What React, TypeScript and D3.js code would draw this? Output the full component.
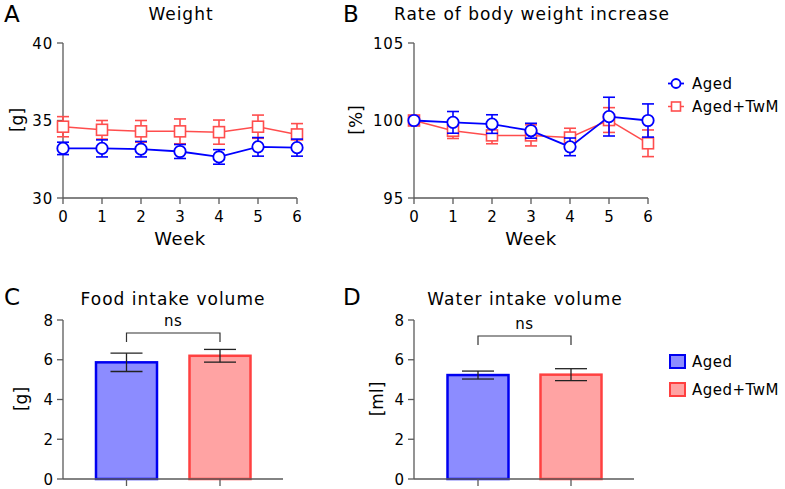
import React from "react";
import * as d3 from "d3";

const weeks = [0, 1, 2, 3, 4, 5, 6];
const weightAged = [33.2, 33.2, 33.15, 33.0, 32.65, 33.3, 33.25];
const weightAgedErr = [0.4, 0.55, 0.5, 0.45, 0.47, 0.6, 0.55];
const weightTwm = [34.6, 34.4, 34.3, 34.3, 34.25, 34.6, 34.1];
const weightTwmErr = [0.65, 0.6, 0.7, 0.8, 0.78, 0.75, 0.7];

const rateAged = [100, 99.88, 99.77, 99.34, 98.3, 100.25, 100.0];
const rateAgedErr = [0, 0.7, 0.6, 0.48, 0.57, 1.25, 1.07];
const rateTwm = [100, 99.34, 99.04, 99.04, 98.9, 100.03, 98.53];
const rateTwmErr = [0, 0.5, 0.54, 0.68, 0.6, 0.8, 0.86];

const groups = ["Aged", "Aged+TwM"];
const foodMean = [5.87, 6.2];
const foodErr = [0.46, 0.32];
const waterMean = [5.23, 5.25];
const waterErr = [0.2, 0.3];

const weightTicks = [30, 35, 40];
const rateTicks = [95, 100, 105];
const barTicks = [0, 2, 4, 6, 8];

const BLUE = "#0000ff";
const RED = "#ff4d4d";
const BLUE_FILL = "#8c8cff";
const RED_FILL = "#ffa3a3";
const AXIS = "#5a5a5a";
const FONT = "DejaVu Sans, Verdana, sans-serif";

type LineProps = {
  x0: number;
  x1: number;
  yTop: number;
  yBot: number;
  domain: [number, number];
  ticks: number[];
  a: number[];
  aErr: number[];
  b: number[];
  bErr: number[];
};

function LinePanel(p: LineProps) {
  const x = d3.scaleLinear().domain([0, 6]).range([p.x0, p.x1]);
  const y = d3.scaleLinear().domain(p.domain).range([p.yBot, p.yTop]);
  const line = d3
    .line<number>()
    .x((_, i) => x(weeks[i]))
    .y((d) => y(d));
  const cap = 6;
  const errBars = (vals: number[], errs: number[], color: string) =>
    vals.map((v, i) =>
      errs[i] > 0 ? (
        <g key={i} stroke={color} strokeWidth={1.6}>
          <line x1={x(weeks[i])} x2={x(weeks[i])} y1={y(v + errs[i])} y2={y(v - errs[i])} />
          <line x1={x(weeks[i]) - cap} x2={x(weeks[i]) + cap} y1={y(v + errs[i])} y2={y(v + errs[i])} />
          <line x1={x(weeks[i]) - cap} x2={x(weeks[i]) + cap} y1={y(v - errs[i])} y2={y(v - errs[i])} />
        </g>
      ) : null
    );
  return (
    <g>
      <line x1={p.x0} x2={p.x0} y1={p.yTop} y2={p.yBot} stroke={AXIS} strokeWidth={1.3} />
      <line x1={p.x0} x2={p.x1} y1={p.yBot} y2={p.yBot} stroke={AXIS} strokeWidth={1.3} />
      {p.ticks.map((t) => (
        <g key={t}>
          <line x1={p.x0 - 6} x2={p.x0} y1={y(t)} y2={y(t)} stroke={AXIS} strokeWidth={1.3} />
          <text x={p.x0 - 10} y={y(t) + 5.5} textAnchor="end" fontSize={15} letterSpacing={0.8} fontFamily={FONT}>
            {t}
          </text>
        </g>
      ))}
      {weeks.map((w) => (
        <g key={w}>
          <line x1={x(w)} x2={x(w)} y1={p.yBot} y2={p.yBot + 6} stroke={AXIS} strokeWidth={1.3} />
          <text x={x(w)} y={p.yBot + 24} textAnchor="middle" fontSize={15} fontFamily={FONT}>
            {w}
          </text>
        </g>
      ))}
      <text x={(p.x0 + p.x1) / 2} y={p.yBot + 47} textAnchor="middle" fontSize={18} letterSpacing={0.6} fontFamily={FONT}>
        Week
      </text>
      {errBars(p.b, p.bErr, RED)}
      <path d={line(p.b) || ""} fill="none" stroke={RED} strokeWidth={1.5} />
      {p.b.map((v, i) => (
        <rect key={i} x={x(weeks[i]) - 5.5} y={y(v) - 5.5} width={11} height={11} fill="#fff" stroke={RED} strokeWidth={1.6} />
      ))}
      {errBars(p.a, p.aErr, BLUE)}
      <path d={line(p.a) || ""} fill="none" stroke={BLUE} strokeWidth={1.8} />
      {p.a.map((v, i) => (
        <circle key={i} cx={x(weeks[i])} cy={y(v)} r={5.7} fill="#fff" stroke={BLUE} strokeWidth={1.8} />
      ))}
    </g>
  );
}

type BarProps = {
  x0: number;
  x1: number;
  centers: number[];
  means: number[];
  errs: number[];
  bracketTop: number;
};

function BarPanel(p: BarProps) {
  const y = d3.scaleLinear().domain([0, 8]).range([479, 320]);
  const bw = 61;
  const fills = [BLUE_FILL, RED_FILL];
  const strokes = ["#0000f0", "#ff4040"];
  const cap = 16;
  const mid = (p.centers[0] + p.centers[1]) / 2;
  return (
    <g>
      {p.means.map((m, i) => (
        <rect
          key={i}
          x={p.centers[i] - bw / 2}
          y={y(m)}
          width={bw}
          height={y(0) - y(m)}
          fill={fills[i]}
          stroke={strokes[i]}
          strokeWidth={2.5}
        />
      ))}
      {p.means.map((m, i) => (
        <g key={i} stroke="#222" strokeWidth={1.3}>
          <line x1={p.centers[i]} x2={p.centers[i]} y1={y(m + p.errs[i])} y2={y(m - p.errs[i])} />
          <line x1={p.centers[i] - cap} x2={p.centers[i] + cap} y1={y(m + p.errs[i])} y2={y(m + p.errs[i])} />
          <line x1={p.centers[i] - cap} x2={p.centers[i] + cap} y1={y(m - p.errs[i])} y2={y(m - p.errs[i])} />
        </g>
      ))}
      <line x1={p.x0} x2={p.x0} y1={320} y2={479} stroke={AXIS} strokeWidth={1.3} />
      <line x1={p.x0} x2={p.x1} y1={479} y2={479} stroke={AXIS} strokeWidth={1.3} />
      {barTicks.map((t) => (
        <g key={t}>
          <line x1={p.x0 - 6} x2={p.x0} y1={y(t)} y2={y(t)} stroke={AXIS} strokeWidth={1.3} />
          <text x={p.x0 - 10} y={y(t) + 5.5} textAnchor="end" fontSize={15} fontFamily={FONT}>
            {t}
          </text>
        </g>
      ))}
      {p.centers.map((c, i) => (
        <line key={i} x1={c} x2={c} y1={479} y2={486} stroke={AXIS} strokeWidth={1.3} />
      ))}
      <path
        d={`M${p.centers[0]},${p.bracketTop + 9}V${p.bracketTop}H${p.centers[1]}V${p.bracketTop + 9}`}
        fill="none"
        stroke="#333"
        strokeWidth={1.2}
      />
      <text x={mid} y={p.bracketTop - 7} textAnchor="middle" fontSize={15} letterSpacing={0.6} fontFamily={FONT}>
        ns
      </text>
    </g>
  );
}

export default function App() {
  return (
    <svg
      width={785}
      height={489}
      style={{ position: "absolute", left: 0, top: 0, background: "#fff" }}
      fontFamily={FONT}
    >
      <rect width={785} height={489} fill="#fff" />
      <text x={4} y={22} fontSize={23}>A</text>
      <text x={343} y={22} fontSize={23}>B</text>
      <text x={4} y={305} fontSize={23}>C</text>
      <text x={343} y={305} fontSize={23}>D</text>
      <text x={181} y={20} textAnchor="middle" fontSize={17} letterSpacing={1}>Weight</text>
      <text x={532} y={20} textAnchor="middle" fontSize={17} letterSpacing={1}>Rate of body weight increase</text>
      <text x={173} y={305} textAnchor="middle" fontSize={17} letterSpacing={1}>Food intake volume</text>
      <text x={525} y={305} textAnchor="middle" fontSize={17} letterSpacing={1}>Water intake volume</text>
      <text transform="translate(23,120) rotate(-90)" textAnchor="middle" fontSize={17}>[g]</text>
      <text transform="translate(362,120) rotate(-90)" textAnchor="middle" fontSize={17}>[%]</text>
      <text transform="translate(27,399) rotate(-90)" textAnchor="middle" fontSize={17}>[g]</text>
      <text transform="translate(383,399) rotate(-90)" textAnchor="middle" fontSize={17}>[ml]</text>

      <LinePanel x0={63} x1={297} yTop={43} yBot={198} domain={[30, 40]} ticks={weightTicks}
        a={weightAged} aErr={weightAgedErr} b={weightTwm} bErr={weightTwmErr} />
      <LinePanel x0={414} x1={648} yTop={43} yBot={198} domain={[95, 105]} ticks={rateTicks}
        a={rateAged} aErr={rateAgedErr} b={rateTwm} bErr={rateTwmErr} />

      <BarPanel x0={63} x1={283} centers={[126.5, 220]} means={foodMean} errs={foodErr} bracketTop={333} />
      <BarPanel x0={414} x1={634} centers={[478, 571]} means={waterMean} errs={waterErr} bracketTop={336} />

      <g>
        <line x1={668} x2={684} y1={83.5} y2={83.5} stroke={BLUE} strokeWidth={1.8} />
        <circle cx={676} cy={83.5} r={4.5} fill="#fff" stroke={BLUE} strokeWidth={1.8} />
        <text x={692} y={89} fontSize={15} letterSpacing={0.5}>{groups[0]}</text>
        <line x1={668} x2={684} y1={106.5} y2={106.5} stroke={RED} strokeWidth={1.5} />
        <rect x={671.5} y={102} width={9} height={9} fill="#fff" stroke={RED} strokeWidth={1.6} />
        <text x={692} y={112} fontSize={15} letterSpacing={0.5}>{groups[1]}</text>
      </g>
      <g>
        <rect x={670} y={355} width={15} height={13} fill={BLUE_FILL} stroke="#0000f0" strokeWidth={2} />
        <text x={692} y={367} fontSize={15} letterSpacing={0.5}>{groups[0]}</text>
        <rect x={670} y={383} width={15} height={13} fill={RED_FILL} stroke="#ff4040" strokeWidth={2} />
        <text x={692} y={395} fontSize={15} letterSpacing={0.5}>{groups[1]}</text>
      </g>
    </svg>
  );
}
